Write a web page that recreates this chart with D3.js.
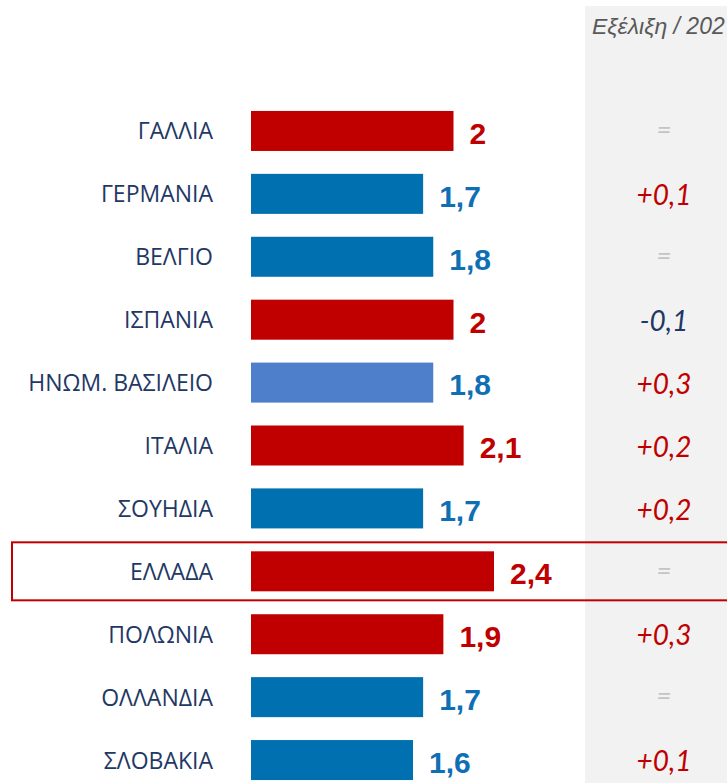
<!DOCTYPE html>
<html>
<head>
<meta charset="utf-8">
<script src="https://cdn.jsdelivr.net/npm/d3@7"></script>
<style>
  body { margin: 0; background: #fff; }
  svg { display: block; }
</style>
</head>
<body>
<svg id="svg1" width="727" height="783"></svg>
<script>
"use strict";

// chart data
const countries = ["ΓΑΛΛΙΑ", "ΓΕΡΜΑΝΙΑ", "ΒΕΛΓΙΟ", "ΙΣΠΑΝΙΑ", "ΗΝΩΜ. ΒΑΣΙΛΕΙΟ", "ΙΤΑΛΙΑ",
                   "ΣΟΥΗΔΙΑ", "ΕΛΛΑΔΑ", "ΠΟΛΩΝΙΑ", "ΟΛΛΑΝΔΙΑ", "ΣΛΟΒΑΚΙΑ"];
const values = [2, 1.7, 1.8, 2, 1.8, 2.1, 1.7, 2.4, 1.9, 1.7, 1.6];
const groups = ["high", "low", "low", "high", "uk", "high", "low", "high", "high", "low", "low"];
const changes = ["=", "+0,1", "=", "-0,1", "+0,3", "+0,2", "+0,2", "=", "+0,3", "=", "+0,1"];
const highlight = "ΕΛΛΑΔΑ";
const headerText = "Εξέλιξη / 202";

const barColor = {high: "#c00000", low: "#0070b0", uk: "#4d7fcb"};
const labelColor = {high: "#c00000", low: "#0f6fb5", uk: "#0f6fb5"};

const data = countries.map((c, i) => ({country: c, value: values[i], group: groups[i], change: changes[i]}));

let svg = d3.select("#svg1");
const W = +svg.attr("width"), H = +svg.attr("height");

let x = d3.scaleLinear().domain([0, 2.4]).range([251, 494]);
let y = d3.scaleBand().domain(countries).range([99.5, 791.5]).paddingInner(0.364).paddingOuter(0.182);

// grey column for the change values
svg.append("rect")
  .attr("x", 585).attr("y", 6)
  .attr("width", W - 585).attr("height", H)
  .attr("fill", "#f2f2f2");

svg.append("text")
  .attr("x", 592).attr("y", 34)
  .style("font-family", "'Liberation Sans', Arial, sans-serif")
  .style("font-size", "23px")
  .style("font-style", "italic")
  .attr("fill", "#595959")
  .text(headerText);

// bars
svg.selectAll(".bar")
  .data(data)
  .enter().append("rect")
    .attr("class", "bar")
    .attr("x", x(0))
    .attr("y", d => y(d.country))
    .attr("width", d => x(d.value) - x(0))
    .attr("height", y.bandwidth())
    .attr("fill", d => barColor[d.group]);

// country names
svg.selectAll(".name")
  .data(data)
  .enter().append("text")
    .attr("class", "name")
    .attr("x", 213)
    .attr("y", d => y(d.country) + y.bandwidth() / 2)
    .attr("dy", "0.37em")
    .attr("text-anchor", "end")
    .style("font-family", "'Open Sans', sans-serif")
    .style("font-size", "23px")
    .attr("fill", "#1f3864")
    .text(d => d.country);

// value labels
svg.selectAll(".val")
  .data(data)
  .enter().append("text")
    .attr("class", "val")
    .attr("x", d => x(d.value) + 16)
    .attr("y", d => y(d.country) + y.bandwidth() / 2)
    .attr("dy", "0.43em")
    .style("font-family", "'Liberation Sans', Arial, sans-serif")
    .style("font-size", "30px")
    .style("font-weight", "bold")
    .attr("fill", d => labelColor[d.group])
    .text(d => String(d.value).replace(".", ","));

// change column
svg.selectAll(".chg")
  .data(data)
  .enter().append("text")
    .attr("class", "chg")
    .attr("x", 664)
    .attr("y", d => y(d.country) + y.bandwidth() / 2)
    .attr("dy", d => d.change === "=" ? "0.32em" : "0.4em")
    .attr("text-anchor", "middle")
    .style("font-family", "Lato, sans-serif")
    .style("font-size", d => d.change === "=" ? "26px" : "28px")
    .style("font-style", "italic")
    .attr("fill", d => d.change === "=" ? "#c4c4c4" : (d.change[0] === "-" ? "#1f3864" : "#c00000"))
    .text(d => d.change);

// highlight box around Greece
svg.append("rect")
  .attr("x", 12)
  .attr("y", y(highlight) + y.bandwidth() / 2 - 29)
  .attr("width", W)
  .attr("height", 58)
  .attr("fill", "none")
  .attr("stroke", "#c00000")
  .attr("stroke-width", 2);
</script>
</body>
</html>
